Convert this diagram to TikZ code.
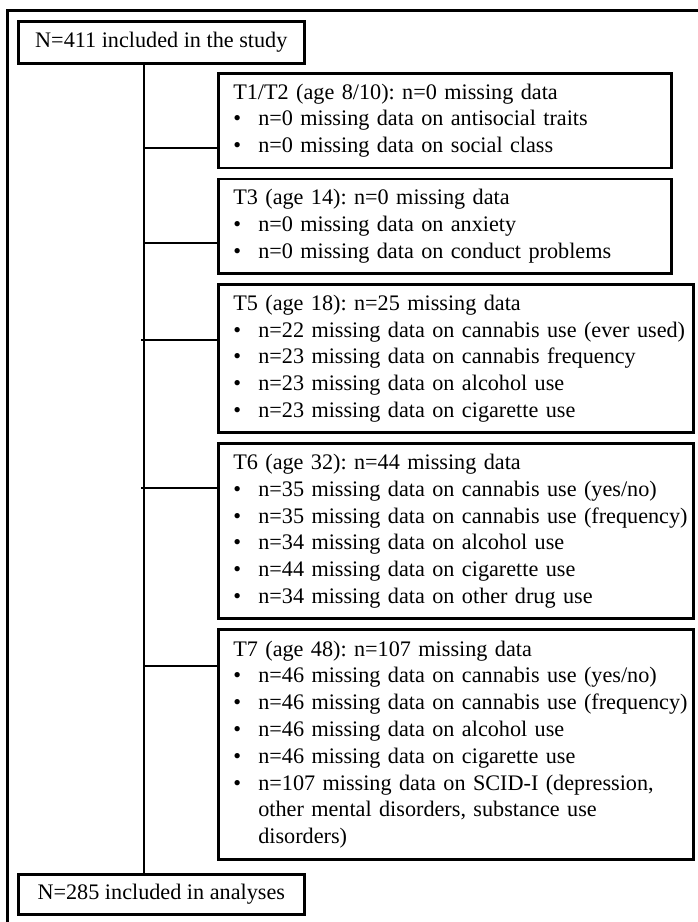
\documentclass[tikz,border=0pt]{standalone}
\usepackage{fontspec}
\setmainfont{Liberation Serif}
\frenchspacing
\setlength{\parindent}{0pt}
\newcommand{\bl}[1]{\makebox[25pt][l]{\textbullet}\mbox{#1}}
\newcommand{\contline}[1]{\hspace*{25pt}\mbox{#1}}
\begin{document}
\begin{tikzpicture}[x=1pt,y=1pt,
  txt/.style={font=\fontsize{22.2}{26.8}\selectfont\frenchspacing},
  box/.style={txt, draw, line width=2.6pt, rectangle, anchor=north west,
    inner xsep=15pt, inner ysep=0pt, align=left},
  sbox/.style={txt, draw, line width=2.6pt, rectangle, anchor=north west,
    inner xsep=15pt, inner ysep=0pt, minimum width=286pt},
  conn/.style={line width=1.3pt},
  trunk/.style={line width=1.6pt},
  frame/.style={line width=3pt}]
\useasboundingbox (0,0) rectangle (698,-922);
\begin{scope}
  \clip (0,0) rectangle (698,-922);
  \draw[frame] (7,-10) rectangle (720,-945);
\end{scope}

\node[sbox, minimum height=42pt] (top) at (17,-20)
  {N=411 included in the study};

\node[box, text width=423pt, minimum height=94.6pt] (t12) at (217,-72)
  {\mbox{T1/T2 (age 8/10): n=0 missing data}\\
   \bl{n=0 missing data on antisocial traits}\\
   \bl{n=0 missing data on social class}};

\node[box, text width=423pt, minimum height=94.6pt] (t3) at (217,-177.6)
  {\mbox{T3 (age 14): n=0 missing data}\\
   \bl{n=0 missing data on anxiety}\\
   \bl{n=0 missing data on conduct problems}};

\node[box, text width=445pt, minimum height=148.2pt] (t5) at (217,-283.2)
  {\mbox{T5 (age 18): n=25 missing data}\\
   \bl{n=22 missing data on cannabis use (ever used)}\\
   \bl{n=23 missing data on cannabis frequency}\\
   \bl{n=23 missing data on alcohol use}\\
   \bl{n=23 missing data on cigarette use}};

\node[box, text width=445pt, minimum height=175pt] (t6) at (217,-442.4)
  {\mbox{T6 (age 32): n=44 missing data}\\
   \bl{n=35 missing data on cannabis use (yes/no)}\\
   \bl{n=35 missing data on cannabis use (frequency)}\\
   \bl{n=34 missing data on alcohol use}\\
   \bl{n=44 missing data on cigarette use}\\
   \bl{n=34 missing data on other drug use}};

\node[box, text width=445pt, minimum height=229.6pt] (t7) at (217,-628.4)
  {\mbox{T7 (age 48): n=107 missing data}\\
   \bl{n=46 missing data on cannabis use (yes/no)}\\
   \bl{n=46 missing data on cannabis use (frequency)}\\
   \bl{n=46 missing data on alcohol use}\\
   \bl{n=46 missing data on cigarette use}\\
   \bl{n=107 missing data on SCID-I (depression,}\\
   \contline{other mental disorders, substance use}\\
   \contline{disorders)}};

\node[sbox, minimum height=40pt] (bot) at (17,-873)
  {N=285 included in analyses};

\coordinate (tx) at (144,0);
\draw[trunk] (top.south -| tx) -- (bot.north -| tx);

\coordinate (j1) at (144,-148);
\coordinate (j2) at (144,-243);
\coordinate (j3) at (141,-340);
\coordinate (j4) at (141,-488);
\coordinate (j5) at (144,-666);
\draw[conn] (j1) -- (j1 -| t12.west);
\draw[conn] (j2) -- (j2 -| t3.west);
\draw[conn] (j3) -- (j3 -| t5.west);
\draw[conn] (j4) -- (j4 -| t6.west);
\draw[conn] (j5) -- (j5 -| t7.west);
\end{tikzpicture}
\end{document}
